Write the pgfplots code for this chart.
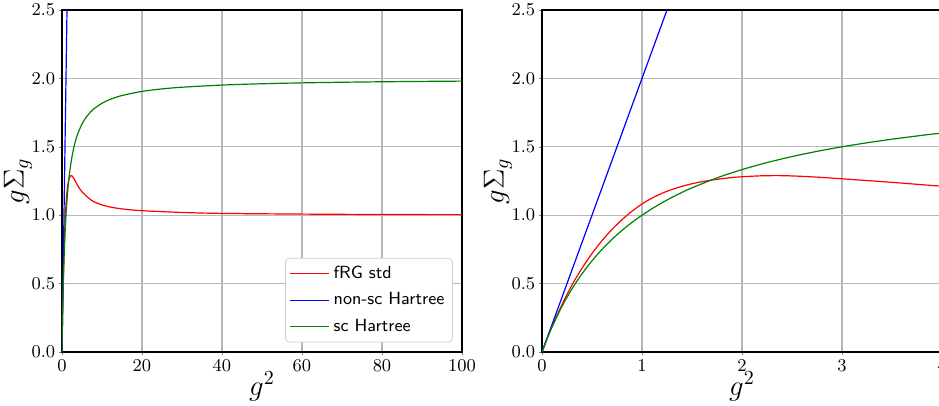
\documentclass[border=0pt]{standalone}
\usepackage{pgfplots}
\pgfplotsset{compat=1.18}
\usepackage{pgfplotstable}
\usetikzlibrary{calc}

\pgfplotstableread{
x y
0 0
0.05 0.097
0.1 0.186
0.2 0.346
0.3 0.490
0.4 0.612
0.5 0.720
0.6 0.814
0.7 0.896
0.8 0.967
0.9 1.029
1.0 1.082
1.1 1.125
1.2 1.160
1.3 1.188
1.4 1.211
1.5 1.230
1.6 1.245
1.7 1.257
1.8 1.267
1.9 1.275
2.0 1.281
2.2 1.288
2.4 1.289
2.6 1.284
2.8 1.276
3.0 1.266
3.5 1.240
4.0 1.212
4.5 1.19
5 1.172
6 1.142
7 1.117
8 1.098
10 1.075
12 1.06
15 1.046
20 1.033
30 1.02
40 1.013
60 1.008
80 1.005
100 1.004
}\frgdata

\pgfplotstableread{
x y
0 0
1.25 2.5
}\nscdata

\pgfplotstableread{
x y
0 0
0.05 0.0952
0.1 0.1818
0.2 0.3333
0.3 0.4615
0.4 0.5714
0.5 0.6667
0.6 0.75
0.7 0.8235
0.8 0.8889
0.9 0.9474
1 1
1.125 1.0588
1.25 1.1111
1.375 1.1579
1.5 1.2
1.75 1.2727
2 1.3333
2.25 1.3846
2.5 1.4286
2.75 1.4667
3 1.5
3.25 1.5294
3.5 1.5556
3.75 1.5789
4 1.6
5 1.6667
6 1.7143
7 1.75
8 1.7778
10 1.8182
12 1.8462
15 1.875
20 1.9048
25 1.9231
30 1.9355
40 1.9512
50 1.9608
60 1.9672
70 1.9718
80 1.9753
90 1.978
100 1.9802
}\scdata

\definecolor{mplgreen}{rgb}{0,0.5,0}

\pgfplotsset{
  myax/.style={
    scale only axis, width=200pt, height=171pt,
    ymin=0, ymax=2.5, ytick={0,0.5,1,1.5,2,2.5},
    yticklabel style={/pgf/number format/fixed, /pgf/number format/fixed zerofill, /pgf/number format/precision=1, inner xsep=1.5pt},
    xticklabel style={inner ysep=2pt},
    grid=major, grid style={color=black!28, line width=0.6pt},
    axis line style={line width=0.7pt},
    tick align=outside, major tick length=1.7pt,
    xtick pos=bottom, ytick pos=left,
    tick label style={font=\fontsize{9.5}{11}\selectfont},
    label style={font=\fontsize{14}{16}\selectfont},
    xlabel={$g^2$}, ylabel={$g\Sigma_g$},
    xlabel style={at={(axis description cs:0.5,0)}, anchor=north, yshift=-6.5pt},
    ylabel style={at={(axis description cs:0,0.5)}, anchor=south, yshift=11.5pt},
    every axis plot/.append style={line width=0.6pt},
  }
}

\begin{document}
\begin{tikzpicture}
\begin{axis}[myax, name=L, at={(0,0)}, anchor=south west,
  xmin=0, xmax=100, xtick={0,20,40,60,80,100},
  legend cell align=left,
  legend style={at={(0.977,0.028)}, anchor=south east,
    draw=black!20, fill=white, rounded corners=2pt,
    font=\sffamily\fontsize{8.8}{10}\selectfont,
    inner xsep=2pt, inner ysep=2pt, row sep=1.5pt},
  legend image code/.code={\draw[#1] (0pt,0pt) -- (19.5pt,0pt);},
]
\addplot[red, smooth] table {\frgdata};
\addlegendentry{fRG std}
\addplot[blue] table {\nscdata};
\addlegendentry{non-sc Hartree}
\addplot[mplgreen, smooth] table {\scdata};
\addlegendentry{sc Hartree}
\end{axis}
\begin{axis}[myax, name=R, at={(240pt,0)}, anchor=south west,
  xmin=0, xmax=4, xtick={0,1,2,3,4},
]
\addplot[red, smooth] table {\frgdata};
\addplot[blue] table {\nscdata};
\addplot[mplgreen, smooth] table {\scdata};
\end{axis}
\pgfresetboundingbox
\useasboundingbox ($(L.south west)+(-31pt,-27pt)$) rectangle ($(L.south west)+(438.5pt,176pt)$);
\end{tikzpicture}
\end{document}
